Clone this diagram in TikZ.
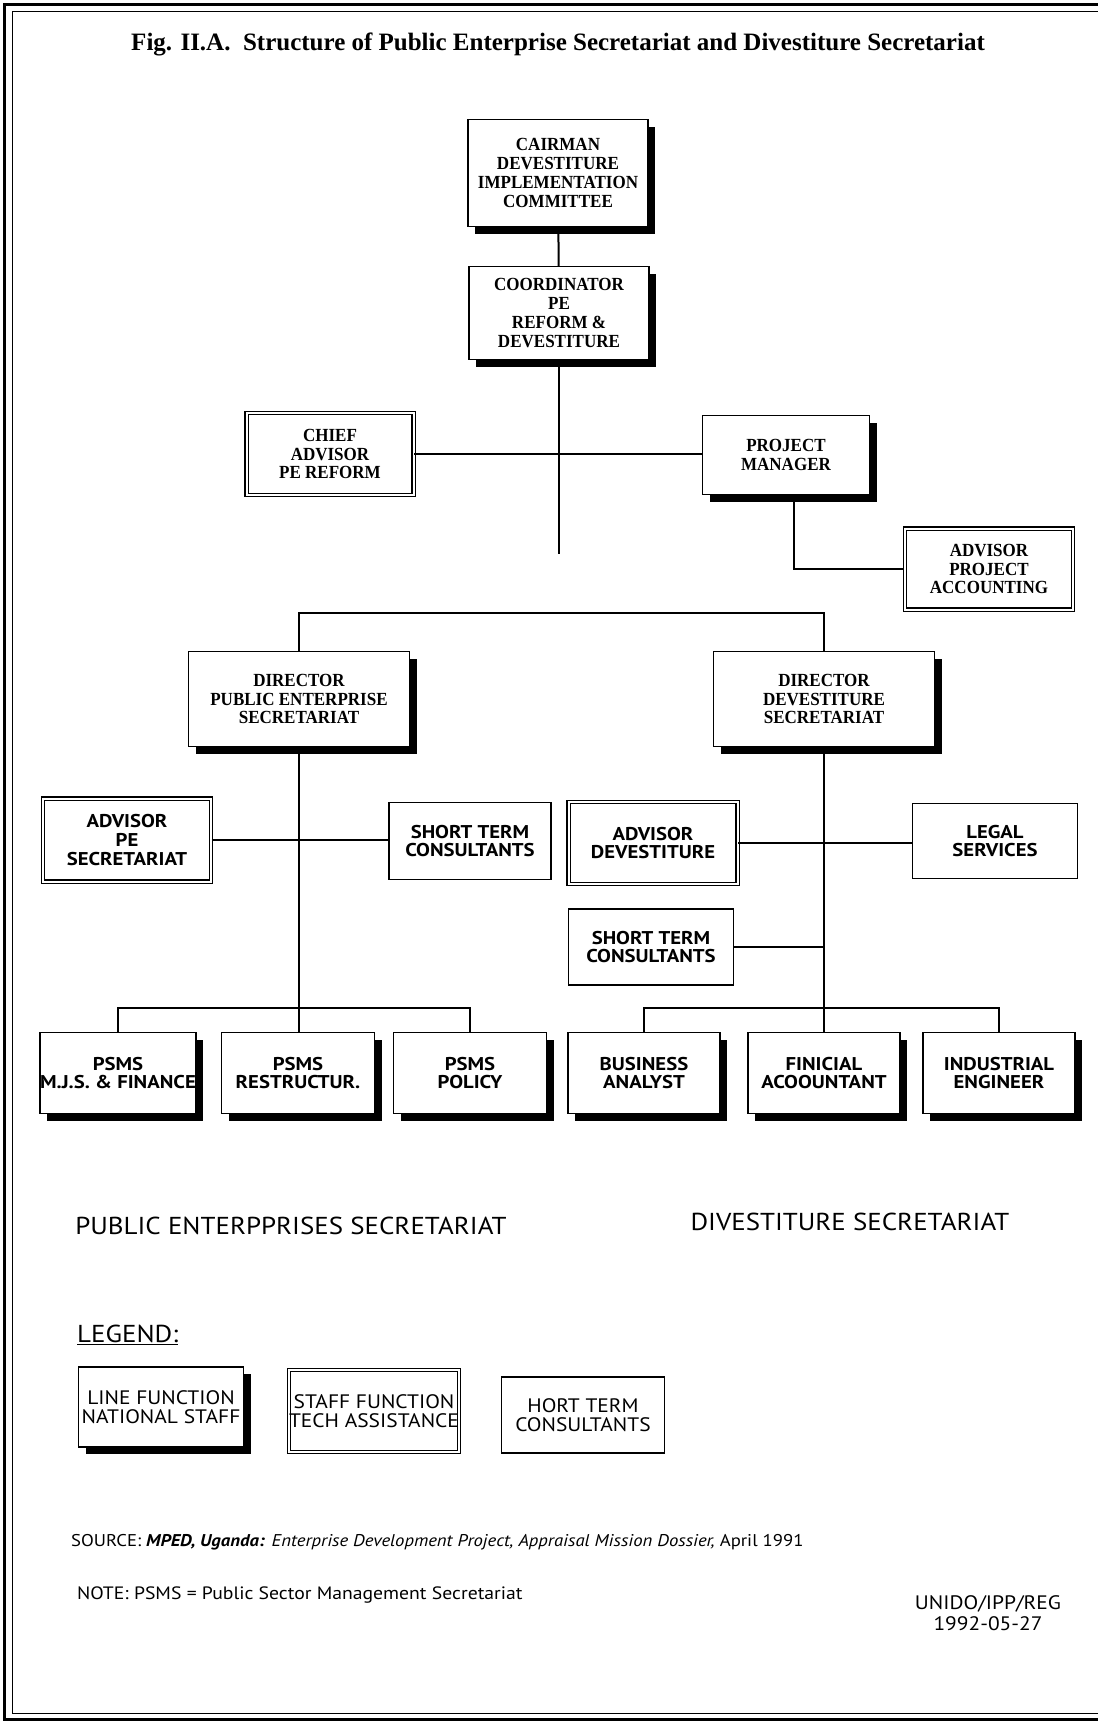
\documentclass[tikz,border=0pt]{standalone}
\usepackage{fontspec}
\usepackage{tikz}
\usetikzlibrary{positioning,shadows}
\newfontfamily\boxfont[FakeStretch=0.92]{Liberation Serif}
\newfontfamily\titlefont{Liberation Serif}
\newfontfamily\optfont[FakeStretch=1.12]{PT Sans}
\newfontfamily\optwide[FakeStretch=1.1]{PT Sans}
\definecolor{orgInk}{HTML}{000000}
\tikzset{
    link/.style={line width=2pt, draw=orgInk},
    serifbox/.style={font=\boxfont\bfseries\fontsize{18.5}{18.7}\selectfont},
    sansbox/.style={font=\optfont\bfseries\fontsize{18.5}{18.7}\selectfont},
    legendtext/.style={font=\optwide\fontsize{19.5}{19}\selectfont},
    linebox/.style={draw=orgInk, line width=1.4pt, fill=white, align=center, inner sep=0pt, drop shadow={shadow xshift=7pt, shadow yshift=-7pt, opacity=1, fill=orgInk}},
    staffbox/.style={draw=orgInk, double, double distance=2pt, line width=1.3pt, fill=white, align=center, inner sep=0pt},
    plainbox/.style={draw=orgInk, line width=1.4pt, fill=white, align=center, inner sep=0pt},
    caption/.style={font=\optwide\fontsize{24.5}{27}\selectfont}
}

\begin{document}
\begin{tikzpicture}[x=1pt, y=-1pt]
\useasboundingbox (0,0) rectangle (1098,1722);
% page frame
\draw[line width=3pt] (1098,4) -- (4,4) -- (4,1719) -- (1098,1719);
\draw[line width=1pt] (1098,11) -- (12,11) -- (12,1713) -- (1098,1713);
\node (title) at (558,44) {\titlefont\bfseries\fontsize{25}{28}\selectfont Fig. II.A.\ \ Structure of Public Enterprise Secretariat and Divestiture Secretariat};

% top of the chart
\node[linebox, serifbox, minimum width=180pt, minimum height=107pt] (chair) at (558,173) {CAIRMAN\\DEVESTITURE\\IMPLEMENTATION\\COMMITTEE};
\node[linebox, serifbox, minimum width=180pt, minimum height=93pt] (coord) at (559,313) {COORDINATOR\\PE\\REFORM \&\\DEVESTITURE};
\node[staffbox, serifbox, minimum width=167pt, minimum height=82pt] (chief) at (330,454) {CHIEF\\ADVISOR\\PE REFORM};
\node[linebox, serifbox, minimum width=167pt, minimum height=79pt] (pm) at (786,455) {PROJECT\\MANAGER};
\node[staffbox, serifbox, minimum width=168pt, minimum height=81pt] (advacc) at (989,569) {ADVISOR\\PROJECT\\ACCOUNTING};
\coordinate (gap) at (559,554);
\coordinate (split) at (559,613);

% two directors
\node[linebox, serifbox, minimum width=221pt, minimum height=95pt] (dirpe) at (299,699) {DIRECTOR\\PUBLIC ENTERPRISE\\SECRETARIAT};
\node[linebox, serifbox, minimum width=221pt, minimum height=95pt] (dirdv) at (824,699) {DIRECTOR\\DEVESTITURE\\SECRETARIAT};

% public enterprise side
\node[staffbox, sansbox, minimum width=168pt, minimum height=83pt] (advpe) at (127,840) {ADVISOR\\PE\\SECRETARIAT};
\node[plainbox, sansbox, minimum width=162pt, minimum height=77pt] (stcpe) at (470,841) {SHORT TERM\\CONSULTANTS};
\node[linebox, sansbox, minimum width=153pt, minimum height=81pt] (psmsfin) at (118,1073) {PSMS\\M.J.S. \& FINANCE};
\node[linebox, sansbox, minimum width=153pt, minimum height=81pt] (psmsres) at (298,1073) {PSMS\\RESTRUCTUR.};
\node[linebox, sansbox, minimum width=153pt, minimum height=81pt] (psmspol) at (470,1073) {PSMS\\POLICY};
\coordinate (pebar) at (299,1008);

% divestiture side
\node[staffbox, sansbox, minimum width=169pt, minimum height=82pt] (advdv) at (653,843) {ADVISOR\\DEVESTITURE};
\node[plainbox, sansbox, minimum width=165pt, minimum height=75pt] (legal) at (995,841) {LEGAL\\SERVICES};
\node[plainbox, sansbox, minimum width=165pt, minimum height=76pt] (stcdv) at (651,947) {SHORT TERM\\CONSULTANTS};
\node[linebox, sansbox, minimum width=152pt, minimum height=81pt] (busan) at (644,1073) {BUSINESS\\ANALYST};
\node[linebox, sansbox, minimum width=152pt, minimum height=81pt] (finacc) at (824,1073) {FINICIAL\\ACOOUNTANT};
\node[linebox, sansbox, minimum width=152pt, minimum height=81pt] (indeng) at (999,1073) {INDUSTRIAL\\ENGINEER};
\coordinate (dvbar) at (824,1008);

% connectors
\draw[link] (chair) -- (coord);
\draw[link] (coord) -- (gap);
\draw[link] (chief.east) -- (chief.east -| pm.west);
\draw[link] ([xshift=8pt]pm.south) |- (advacc.west);
\draw[link] (dirpe.north) |- (split) -| (dirdv.north);
\draw[link] (dirpe.south) -- (dirpe.south |- psmsres.north);
\draw[link] (advpe.east) -- (advpe.east -| stcpe.west);
\draw[link] (psmsfin.north) |- (pebar) -| (psmspol.north);
\draw[link] (dirdv.south) -- (dirdv.south |- finacc.north);
\draw[link] (advdv.east) -- (advdv.east -| legal.west);
\draw[link] (stcdv.east) -- (stcdv.east -| dirdv.south);
\draw[link] (busan.north) |- (dvbar) -| (indeng.north);

% section names
\node[caption] (pesec) at (291,1226) {PUBLIC ENTERPPRISES SECRETARIAT};
\node[caption] (dvsec) at (850,1222) {DIVESTITURE SECRETARIAT};

% legend
\node[caption, anchor=west, inner sep=0pt] (legend) at (77,1335) {\underline{LEGEND:}};
\node[linebox, legendtext, minimum width=165pt, minimum height=80pt] (lgline) at (161,1407) {LINE FUNCTION\\NATIONAL STAFF};
\node[staffbox, legendtext, minimum width=169pt, minimum height=82pt] (lgstaff) at (374,1411) {STAFF FUNCTION\\TECH ASSISTANCE};
\node[plainbox, legendtext, minimum width=163pt, minimum height=76pt] (lgshort) at (583,1415) {HORT TERM\\CONSULTANTS};

% notes
\node[anchor=west, inner sep=0pt, font=\optwide\fontsize{17}{19}\selectfont] (source) at (71,1542) {SOURCE: \textbf{\textit{MPED, Uganda:}} \textit{Enterprise Development Project, Appraisal Mission Dossier,} April 1991};
\node[anchor=west, inner sep=0pt, font=\optwide\fontsize{17.9}{20}\selectfont] (note) at (77,1595) {NOTE: PSMS = Public Sector Management Secretariat};
\node[align=center, font=\optwide\fontsize{19.5}{21}\selectfont] (unido) at (988,1613) {UNIDO/IPP/REG\\1992-05-27};
\end{tikzpicture}
\end{document}
